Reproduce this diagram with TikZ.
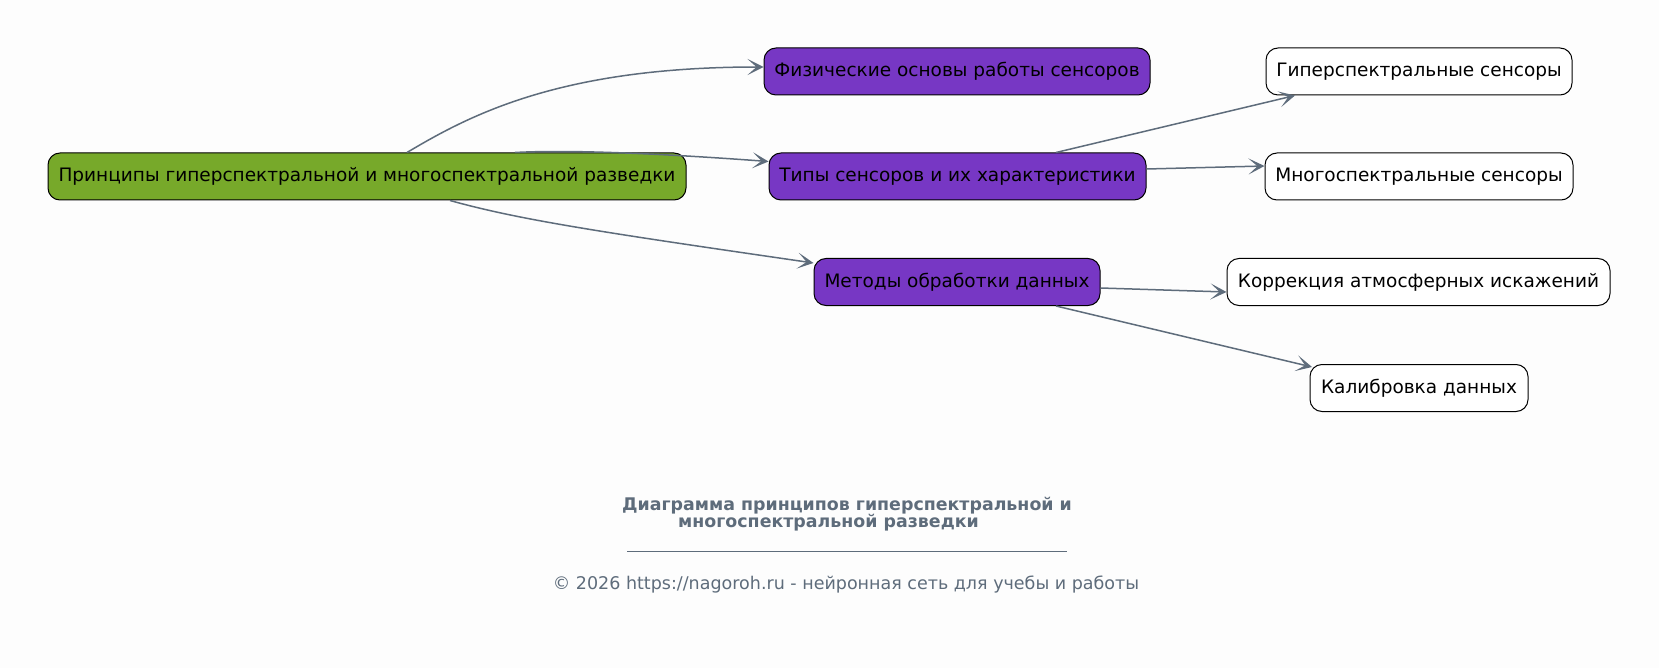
\documentclass[tikz,border=0pt]{standalone}
\usepackage{fontspec}
\setmainfont{DejaVu Sans}
\usetikzlibrary{arrows.meta}
\definecolor{bg}{HTML}{FDFDFD}
\definecolor{rootgreen}{HTML}{77A92A}
\definecolor{midpurple}{HTML}{7737C4}
\definecolor{edgecol}{HTML}{5E6C7B}
\definecolor{titlecol}{HTML}{5E6C7B}
\tikzset{
  box/.style={draw=black, rounded corners=12pt, minimum height=47pt, inner sep=0pt, line width=1pt, font=\fontsize{18.5}{22}\selectfont},
  rootbox/.style={box, fill=rootgreen},
  midbox/.style={box, fill=midpurple},
  leafbox/.style={box, fill=white},
  conn/.style={draw=edgecol, line width=1.5pt, -{Stealth[length=16pt,width=16pt,inset=9pt]}},
  caption/.style={text=titlecol, inner sep=0pt}
}
\begin{document}
\begin{tikzpicture}[x=1pt,y=-1pt]
\fill[bg] (0,0) rectangle (1659,668);
\useasboundingbox (0,0) rectangle (1659,668);
\node[rootbox, minimum width=638pt] (root) at (367,176.5) {Принципы гиперспектральной и многоспектральной разведки};
\node[midbox, minimum width=386pt] (phys) at (957,71.5) {Физические основы работы сенсоров};
\node[midbox, minimum width=377pt] (types) at (957.5,176.5) {Типы сенсоров и их характеристики};
\node[midbox, minimum width=286pt] (meth) at (957,282) {Методы обработки данных};
\node[leafbox, minimum width=306pt] (hyper) at (1419,71.5) {Гиперспектральные сенсоры};
\node[leafbox, minimum width=308pt] (multi) at (1419,176.5) {Многоспектральные сенсоры};
\node[leafbox, minimum width=383pt] (corr) at (1418.5,282) {Коррекция атмосферных искажений};
\node[leafbox, minimum width=218pt] (calib) at (1419,388) {Калибровка данных};

\draw[conn] ([xshift=40pt]root.north) .. controls (470,115) and (560,67) .. ([yshift=4.5pt]phys.west);
\draw[conn] ([xshift=148pt]root.north) .. controls (560,150) and (640,152) .. ([yshift=15pt]types.west);
\draw[conn] ([xshift=83pt]root.south) .. controls (520,220) and (600,232) .. ([yshift=19pt]meth.west);
\draw[conn] ([xshift=98.5pt]types.north) -- ([xshift=-124pt]hyper.south);
\draw[conn] ([yshift=7.5pt]types.east) -- ([yshift=10.5pt]multi.west);
\draw[conn] ([yshift=-6pt]meth.east) -- ([yshift=-10pt]corr.west);
\draw[conn] ([xshift=99pt]meth.south) -- ([xshift=-107pt,yshift=-3pt]calib.north);

\node[caption, font=\fontsize{17.4}{20}\selectfont\bfseries] (t1) at (847,506) {Диаграмма принципов гиперспектральной и};
\node[caption, font=\fontsize{17.4}{20}\selectfont\bfseries] (t2) at (828.5,523) {многоспектральной разведки};
\draw[titlecol, line width=0.8pt] (627,551) -- (1067,551);
\node[caption, font=\fontsize{17.5}{20}\selectfont] (copy) at (846,585) {© 2026 https://nagoroh.ru - нейронная сеть для учебы и работы};
\end{tikzpicture}
\end{document}
